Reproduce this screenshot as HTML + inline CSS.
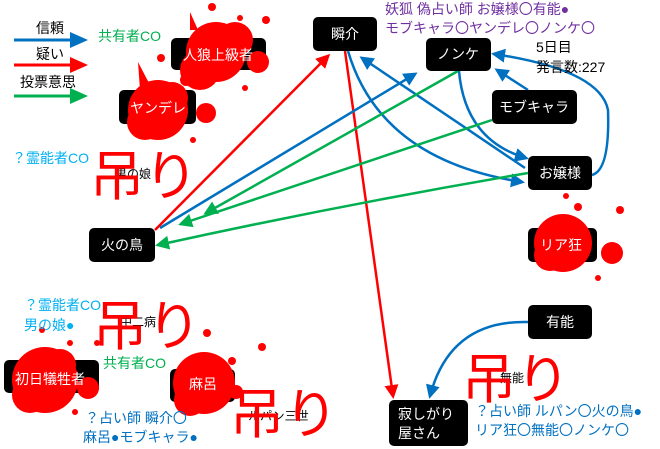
<!DOCTYPE html>
<html><head><meta charset="utf-8"><style>
html,body{margin:0;padding:0;background:#fff;}
svg{display:block;font-family:"Liberation Sans","Noto Sans CJK JP",sans-serif;}
</style></head><body>
<svg width="660" height="449" viewBox="0 0 660 449" xmlns="http://www.w3.org/2000/svg">
<defs>
<marker id="ab" markerWidth="14" markerHeight="14" refX="11" refY="7" orient="auto" markerUnits="userSpaceOnUse"><path d="M0,0 L14,7 L0,14 z" fill="#0070c0"/></marker>
<marker id="ar" markerWidth="14" markerHeight="14" refX="11" refY="7" orient="auto" markerUnits="userSpaceOnUse"><path d="M0,0 L14,7 L0,14 z" fill="#ff0000"/></marker>
<marker id="ag" markerWidth="14" markerHeight="14" refX="11" refY="7" orient="auto" markerUnits="userSpaceOnUse"><path d="M0,0 L14,7 L0,14 z" fill="#00b050"/></marker>
</defs>
<style>
.n{fill:#000;}
.t{fill:#fff;font-size:14px;text-anchor:middle;}
.b{stroke:#0070c0;stroke-width:2.5;fill:none;}
.r{stroke:#ff0000;stroke-width:2.5;fill:none;}
.g{stroke:#00b050;stroke-width:2.5;fill:none;}
.bl{fill:#ff0000;}
</style>
<!-- legend -->
<text x="36" y="33" font-size="14">信頼</text>
<line x1="14" y1="40" x2="70" y2="40" stroke="#0070c0" stroke-width="3"/><path d="M70,32 L88,40 L70,48z" fill="#0070c0"/>
<text x="36" y="59" font-size="14">疑い</text>
<line x1="14" y1="65" x2="70" y2="65" stroke="#ff0000" stroke-width="3"/><path d="M70,57 L88,65 L70,73z" fill="#ff0000"/>
<text x="20" y="87" font-size="14">投票意思</text>
<line x1="14" y1="96" x2="70" y2="96" stroke="#00b050" stroke-width="3"/><path d="M70,88 L88,96 L70,104z" fill="#00b050"/>

<!-- edges -->
<line class="r" x1="155" y1="230" x2="328" y2="56" marker-end="url(#ar)"/>
<line class="r" x1="345" y1="51" x2="393" y2="396" marker-end="url(#ar)"/>
<line class="b" x1="160" y1="228" x2="415" y2="74" marker-end="url(#ab)"/>
<line class="b" x1="525" y1="168" x2="362" y2="58" marker-end="url(#ab)"/>
<path class="b" d="M348,51 Q380,160 522,182" marker-end="url(#ab)"/>
<path class="b" d="M459,71 Q465,140 526,158" marker-end="url(#ab)"/>
<line class="b" x1="528" y1="90" x2="497" y2="70" marker-end="url(#ab)"/>
<path class="b" d="M592,175 Q610,170 608,110 Q600,70 494,54" marker-end="url(#ab)"/>
<line class="g" x1="458" y1="71" x2="206" y2="213" marker-end="url(#ag)"/>
<line class="g" x1="492" y1="120" x2="181" y2="224" marker-end="url(#ag)"/>
<path class="g" d="M528,173 Q340,205 158,245" marker-end="url(#ag)"/>
<path class="b" d="M528,322 Q450,320 430,396" marker-end="url(#ab)"/>

<!-- nodes -->
<rect class="n" x="313" y="17" width="64" height="34" rx="5"/><text class="t" x="345" y="39">瞬介</text>
<rect class="n" x="426" y="38" width="65" height="33" rx="5"/><text class="t" x="458" y="59">ノンケ</text>
<rect class="n" x="492" y="90" width="85" height="34" rx="5"/><text class="t" x="534" y="112">モブキャラ</text>
<rect class="n" x="528" y="156" width="64" height="34" rx="5"/><text class="t" x="560" y="178">お嬢様</text>
<rect class="n" x="89" y="228" width="66" height="34" rx="5"/><text class="t" x="122" y="250">火の鳥</text>
<rect class="n" x="528" y="305" width="64" height="34" rx="5"/><text class="t" x="560" y="327">有能</text>
<rect class="n" x="389" y="400" width="79" height="46" rx="5"/><text x="398" y="419" fill="#fff" font-size="14">寂しがり</text><text x="398" y="438" fill="#fff" font-size="14">屋さん</text>

<!-- dead nodes -->
<rect class="n" x="171" y="38" width="95" height="32" rx="5"/>
<rect class="n" x="119" y="90" width="77" height="34" rx="5"/>
<rect class="n" x="528" y="228" width="69" height="34" rx="5"/>
<rect class="n" x="4" y="360" width="95" height="33" rx="5"/>
<rect class="n" x="170" y="369" width="65" height="33" rx="5"/>
<g class="bl">
<circle cx="216" cy="52" r="30"/><circle cx="200" cy="70" r="20"/><circle cx="235" cy="40" r="18"/><circle cx="258" cy="62" r="11"/><circle cx="212" cy="7" r="4"/><circle cx="240" cy="18" r="3"/><circle cx="266" cy="20" r="4"/><circle cx="161" cy="58" r="4"/><circle cx="245" cy="88" r="3"/><circle cx="186" cy="80" r="6"/><path d="M190,30 L190,12 L198,30z"/>
<circle cx="158" cy="110" r="30"/><circle cx="145" cy="122" r="18"/><circle cx="172" cy="98" r="16"/><circle cx="206" cy="113" r="10"/><circle cx="193" cy="140" r="3"/><path d="M140,90 L138,62 L150,85z"/>
<circle cx="563" cy="243" r="29"/><circle cx="550" cy="255" r="16"/><circle cx="612" cy="253" r="11"/><circle cx="598" cy="278" r="3"/><circle cx="566" cy="196" r="3"/><circle cx="578" cy="207" r="4"/><circle cx="620" cy="210" r="4"/>
<circle cx="45" cy="380" r="33"/><circle cx="30" cy="395" r="18"/><circle cx="60" cy="365" r="16"/><circle cx="88" cy="388" r="11"/><circle cx="42" cy="330" r="3"/><circle cx="70" cy="343" r="3"/><circle cx="97" cy="343" r="3"/><circle cx="75" cy="412" r="3"/>
<circle cx="204" cy="383" r="31"/><circle cx="190" cy="400" r="16"/><circle cx="232" cy="361" r="4"/><circle cx="262" cy="347" r="4"/><circle cx="207" cy="333" r="4"/><circle cx="236" cy="392" r="7"/>
</g>
<text class="t" x="218" y="60">人狼上級者</text>
<text class="t" x="158" y="113">ヤンデレ</text>
<text class="t" x="561" y="250">リア狂</text>
<text class="t" x="50" y="384">初日犠牲者</text>
<text class="t" x="203" y="389">麻呂</text>

<!-- small hidden labels -->
<text x="115" y="178" font-size="12">男の娘</text>
<text x="120" y="326" font-size="12">中二病</text>
<text x="248" y="420" font-size="12">ルパン三世</text>
<text x="500" y="382" font-size="12">無能</text>

<!-- 吊り -->
<g fill="#ff0000" font-size="54">
<text x="90" y="195">吊り</text>
<text x="93" y="345">吊り</text>
<text x="230" y="433">吊り</text>
<text x="462" y="398">吊り</text>
</g>

<!-- annotations -->
<text x="98" y="41" font-size="14" fill="#00b050">共有者CO</text>
<text x="103" y="368" font-size="14" fill="#00b050">共有者CO</text>
<text x="12" y="163" font-size="14" fill="#00b0f0">？霊能者CO</text>
<text x="24" y="310" font-size="14" fill="#00b0f0">？霊能者CO</text>
<text x="24" y="330" font-size="14" fill="#00b0f0">男の娘●</text>
<text x="85" y="423" font-size="14" fill="#0070c0">？占い師 瞬介〇</text>
<text x="83" y="442" font-size="14" fill="#0070c0">麻呂●モブキャラ●</text>
<text x="385" y="14" font-size="14" fill="#7030a0">妖狐 偽占い師 お嬢様〇有能●</text>
<text x="385" y="33" font-size="14" fill="#7030a0">モブキャラ〇ヤンデレ〇ノンケ〇</text>
<text x="536" y="52" font-size="14">5日目</text>
<text x="536" y="72" font-size="14">発言数:227</text>
<text x="475" y="416" font-size="14" fill="#0070c0">？占い師 ルパン〇火の鳥●</text>
<text x="475" y="435" font-size="14" fill="#0070c0">リア狂〇無能〇ノンケ〇</text>
</svg>
</body></html>
